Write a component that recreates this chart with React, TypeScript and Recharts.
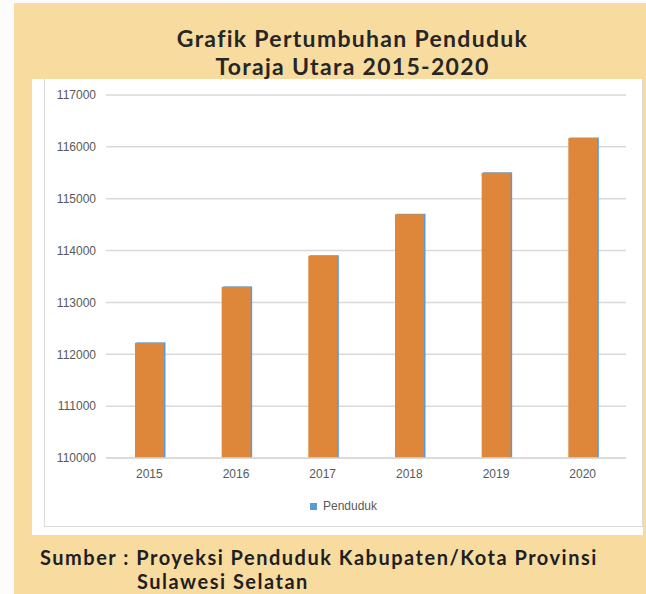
import { Bar, BarChart, CartesianGrid, Legend, XAxis, YAxis } from "recharts";

const years = ["2015", "2016", "2017", "2018", "2019", "2020"];
const penduduk = [112220, 113300, 113900, 114700, 115500, 116170];
const yTicks = [110000, 111000, 112000, 113000, 114000, 115000, 116000, 117000];

const data = years.map((year, i) => ({ year, penduduk: penduduk[i] }));

const orange = "#DE873B";
const blue = "#5B9BD5";

// orange bar with the thin blue edge seen in the source picture
function EdgedBar(props: any) {
  const { x, y, width, height } = props;
  return (
    <g>
      <rect x={x + 1.5} y={y - 0.5} width={width} height={height + 0.5} fill={blue} />
      <rect x={x} y={y} width={width} height={height} fill={orange} />
    </g>
  );
}

function LegendBox() {
  return (
    <div
      style={{
        display: "flex",
        justifyContent: "center",
        alignItems: "center",
        paddingLeft: 12,
        fontFamily: "'Liberation Sans', Arial, sans-serif",
        fontSize: 12,
        color: "#595959",
        height: 20,
      }}
    >
      <span style={{ width: 7, height: 7, background: blue, marginRight: 6, display: "inline-block" }} />
      Penduduk
    </div>
  );
}

export default function App() {
  return (
    <div style={{ position: "absolute", left: 0, top: 0, width: 646, height: 594, background: "#FCFCFC", overflow: "hidden" }}>
      <div style={{ position: "absolute", left: 14, top: 3, width: 632, height: 591, background: "#F8DC9F" }} />
      <div
        style={{
          position: "absolute",
          left: 14,
          width: 632,
          top: 24,
          textAlign: "center",
          fontFamily: "Lato, 'Noto Sans', sans-serif",
          fontWeight: 700,
          fontSize: 23,
          lineHeight: "28px",
          letterSpacing: 1.3,
          color: "#262626",
          paddingLeft: 45,
          boxSizing: "border-box",
        }}
      >
        <div>Grafik Pertumbuhan Penduduk</div>
        <div>Toraja Utara 2015-2020</div>
      </div>
      <div style={{ position: "absolute", left: 32, top: 79, width: 611, height: 456, background: "#FFFFFF" }}>
        <div
          style={{ position: "absolute", left: 12, top: 0, width: 599, height: 448, border: "1px solid #D9D9D9", borderTop: "none", boxSizing: "border-box" }}
        />
        <BarChart width={611} height={456} data={data} margin={{ top: 16, right: 17, left: 0, bottom: 27 }}>
          <CartesianGrid vertical={false} stroke="#D9D9D9" strokeWidth={1.5} />
          <XAxis
            dataKey="year"
            axisLine={{ stroke: "#D9D9D9", strokeWidth: 1.5 }}
            tickLine={false}
            tickMargin={5}
            tick={{ fill: "#595959", fontSize: 12, fontFamily: "'Liberation Sans', Arial, sans-serif" }}
          />
          <YAxis
            width={74}
            domain={[110000, 117000]}
            ticks={yTicks}
            axisLine={false}
            tickLine={false}
            tickMargin={4}
            tick={{ fill: "#595959", fontSize: 12, fontFamily: "'Liberation Sans', Arial, sans-serif" }}
          />
          <Legend verticalAlign="bottom" content={<LegendBox />} wrapperStyle={{ left: 0, width: 611, bottom: 19 }} />
          <Bar dataKey="penduduk" name="Penduduk" barSize={29} fill={orange} shape={<EdgedBar />} isAnimationActive={false} />
        </BarChart>
      </div>
      <div
        style={{
          position: "absolute",
          left: 40,
          top: 545,
          fontFamily: "Lato, 'Noto Sans', sans-serif",
          fontWeight: 700,
          fontSize: 20,
          lineHeight: "24px",
          letterSpacing: 1.5,
          color: "#1F1F1F",
          whiteSpace: "pre",
        }}
      >
        <div>Sumber : Proyeksi Penduduk Kabupaten/Kota Provinsi</div>
        <div style={{ paddingLeft: 97 }}>Sulawesi Selatan</div>
      </div>
    </div>
  );
}
